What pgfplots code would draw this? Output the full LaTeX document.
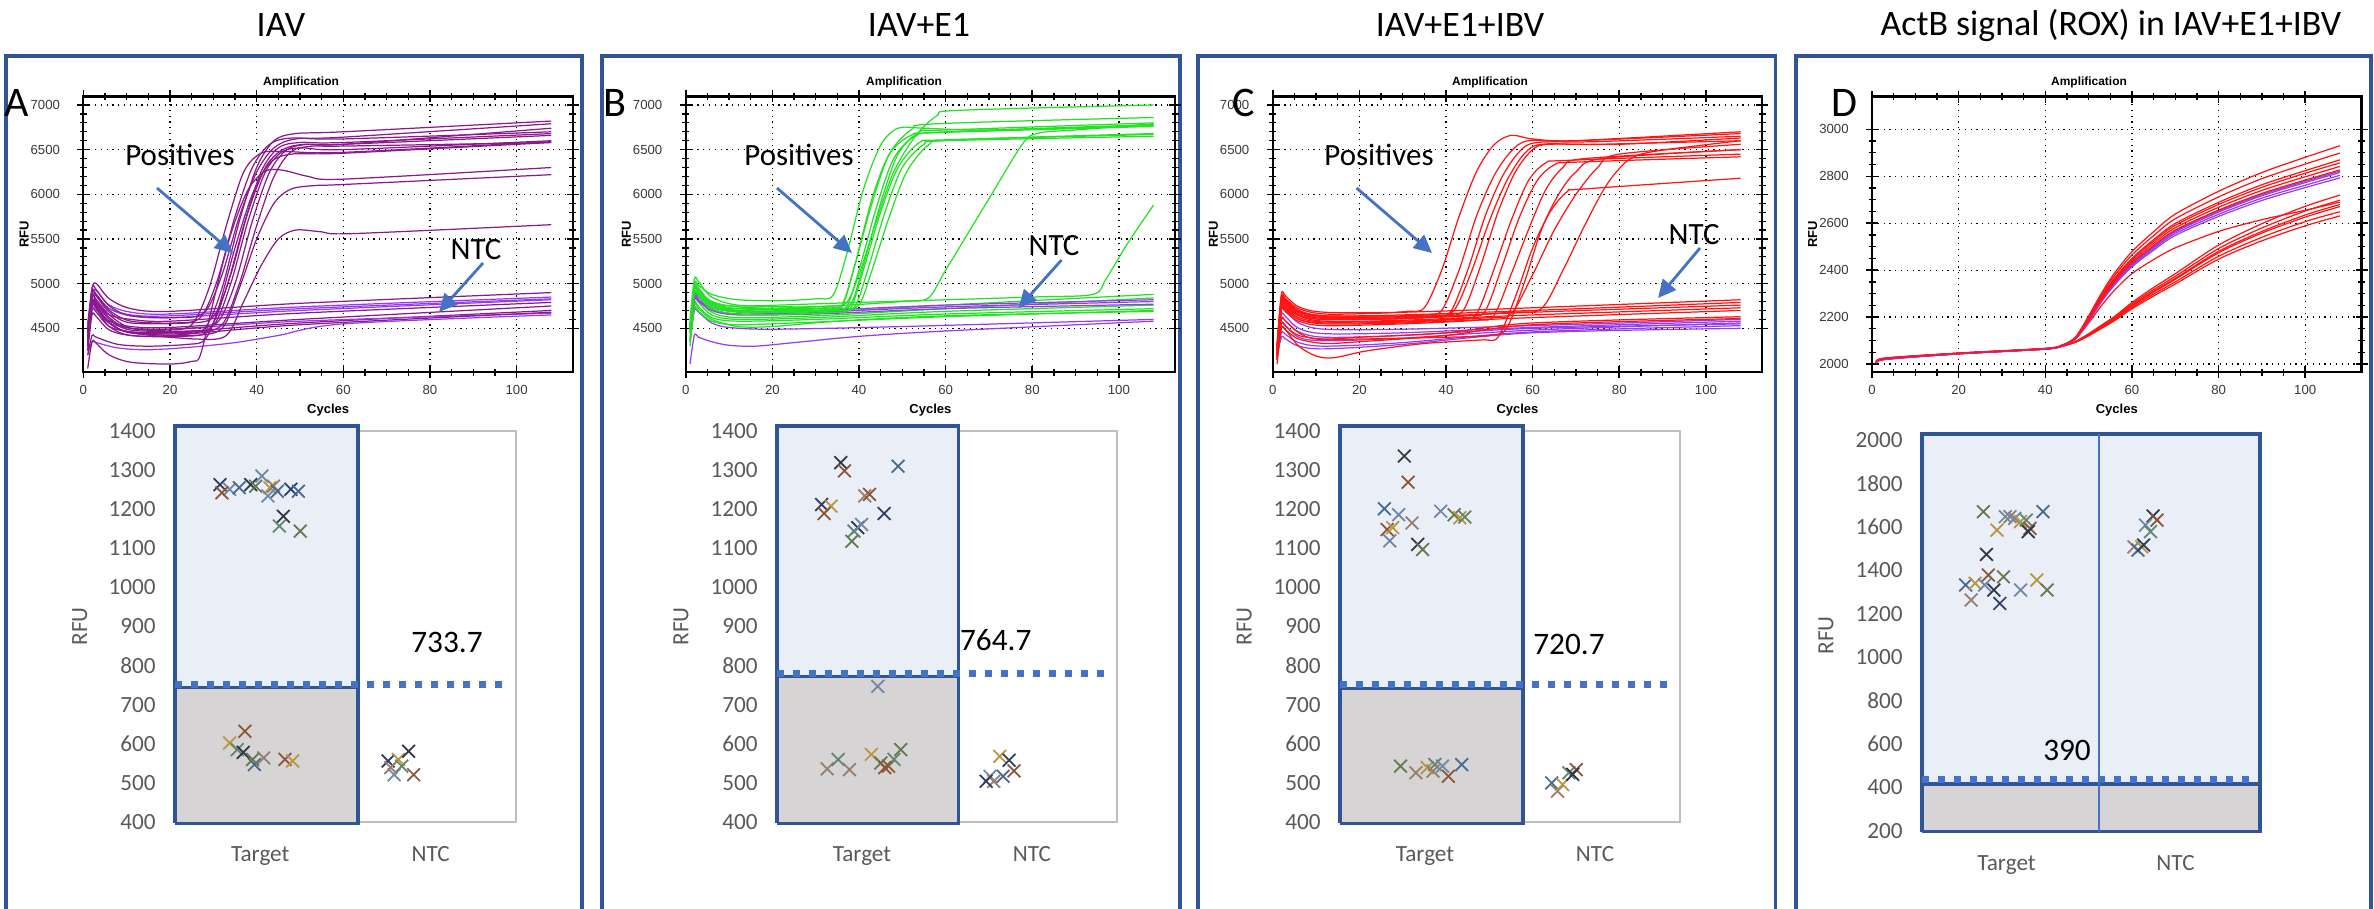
\documentclass[border=0pt]{standalone}
\usepackage{fontspec}
\setmainfont{Carlito}
\newfontfamily\arial{Liberation Sans}
\usepackage{pgfplots}
\pgfplotsset{compat=1.18}
\usetikzlibrary{arrows.meta}
\definecolor{frameblue}{RGB}{47,85,151}
\definecolor{tblue}{RGB}{68,114,196}
\definecolor{boxblue}{RGB}{233,238,247}
\definecolor{boxgray}{RGB}{214,212,213}
\definecolor{bordergray}{RGB}{191,191,191}
\definecolor{tickgray}{RGB}{89,89,89}
\definecolor{apos}{RGB}{140,25,140}
\definecolor{viol}{RGB}{150,60,235}
\definecolor{bpos}{RGB}{35,225,35}
\definecolor{cred}{RGB}{255,20,20}
\definecolor{mk1}{RGB}{47,62,100}
\definecolor{mk2}{RGB}{140,85,55}
\definecolor{mk3}{RGB}{110,135,165}
\definecolor{mk4}{RGB}{100,120,75}
\definecolor{mk5}{RGB}{185,150,60}
\definecolor{mk6}{RGB}{70,105,145}
\definecolor{mk7}{RGB}{45,55,70}
\definecolor{mk8}{RGB}{150,125,110}
\definecolor{mk9}{RGB}{95,135,110}
\newcommand\arialt{\arial\fontsize{3.75}{4.5}\selectfont}
\newcommand\arialb{\arial\bfseries\fontsize{3.7}{4.5}\selectfont}
\newcommand\scf{\fontsize{6.6}{8}\selectfont}
\pgfplotsset{
  amp/.style={
    scale only axis, width=4.895cm, height=2.755cm,
    xmin=0, xmax=113, xtick={0,20,...,100}, minor x tick num=3,
    grid=major, major grid style={black, line width=0.35pt, dash pattern=on 0.35pt off 1.3pt},
    axis line style={black, line width=0.6pt},
    major tick style={black, line width=0.45pt}, minor tick style={black, line width=0.35pt},
    major tick length=1.2mm, minor tick length=0.7mm, tick align=center,
    ticklabel style={font=\arialt, text=black!78},
    xticklabel style={yshift=0.5mm}, yticklabel style={xshift=-0.5mm},
    /pgf/number format/1000 sep={}, /pgf/number format/assume math mode=true,
    xlabel={Cycles}, ylabel={RFU},
    xlabel style={font=\arialb, at={(axis description cs:0.5,-0.14)}, anchor=center},
    ylabel style={font=\arialb, at={(axis description cs:-0.121,0.5)}, anchor=center},
    every axis plot/.append style={line width=0.35pt, smooth},
  },
  sc/.style={
    scale only axis, xmin=0, xmax=2, xtick={0.5,1.5}, xticklabels={Target,NTC},
    major tick length=0pt, axis line style={draw=bordergray, line width=0.7pt},
    ticklabel style={font=\scf, text=tickgray},
    /pgf/number format/1000 sep={}, /pgf/number format/assume math mode=true,
    xticklabel style={yshift=-1.2mm}, yticklabel style={xshift=-0.7mm},
    ylabel={RFU}, ylabel style={font=\scf, text=tickgray, anchor=center},
    clip=false,
    scatter/classes={a={mark=x,draw=mk1},b={mark=x,draw=mk2},c={mark=x,draw=mk3},
      d={mark=x,draw=mk4},e={mark=x,draw=mk5},f={mark=x,draw=mk6},
      g={mark=x,draw=mk7},h={mark=x,draw=mk8},i={mark=x,draw=mk9}},
  },
  sp/.style={scatter, only marks, scatter src=explicit symbolic, mark size=0.9mm, line width=0.5pt},
  thr/.style={tblue, line width=2pt, dash pattern=on 0.68mm off 0.92mm},
  tbox/.style={fill=boxblue, draw=frameblue, line width=0.9pt, line join=miter},
  gbox/.style={fill=boxgray, draw=frameblue, line width=0.9pt, line join=miter},
}
\tikzset{arr/.style={tblue, line width=0.8pt, -{Triangle[length=1.8mm,width=1.7mm]}}}
\begin{document}
\begin{tikzpicture}
\path[use as bounding box] (0,0) rectangle (23.74,9.08);
% frames
\draw[frameblue, line width=1pt] (0.06,-0.2) -- (0.06,8.52) -- (5.82,8.52) -- (5.82,-0.2);
\draw[frameblue, line width=1pt] (6.02,-0.2) -- (6.02,8.52) -- (11.80,8.52) -- (11.80,-0.2);
\draw[frameblue, line width=1pt] (11.98,-0.2) -- (11.98,8.52) -- (17.755,8.52) -- (17.755,-0.2);
\draw[frameblue, line width=1pt] (17.96,-0.2) -- (17.96,8.52) -- (23.71,8.52) -- (23.71,-0.2);
% titles
\node[font=\fontsize{10.2}{12}\selectfont] at (2.81,8.83) {IAV};
\node[font=\fontsize{10.2}{12}\selectfont] at (9.19,8.83) {IAV+E1};
\node[font=\fontsize{10.2}{12}\selectfont] at (14.60,8.83) {IAV+E1+IBV};
\node[font=\fontsize{10.2}{12}\selectfont] at (21.11,8.83) {ActB signal (ROX) in IAV+E1+IBV};

% ---------------- Panel A amplification
\begin{axis}[amp, at={(0.834cm,5.36cm)}, ymin=4011, ymax=7095, ytick={4500,5000,...,7000}, minor y tick num=4]
\addplot[apos] coordinates {(1,4550)(2,4950)(3,5000)(6,4830)(11,4720)(20,4690)(50,4780)(108,4900)};
\addplot[viol] coordinates {(1,4500)(2,4900)(3,4920)(6,4760)(11,4680)(20,4660)(50,4740)(108,4850)};
\addplot[viol] coordinates {(1,4450)(2,4850)(3,4860)(6,4720)(11,4650)(20,4640)(50,4720)(108,4830)};
\addplot[apos] coordinates {(1,4420)(2,4800)(3,4790)(6,4650)(11,4600)(20,4580)(50,4670)(108,4790)};
\addplot[apos] coordinates {(1,4380)(2,4750)(3,4730)(6,4580)(11,4520)(20,4510)(50,4600)(108,4750)};
\addplot[apos] coordinates {(1,4300)(2,4700)(3,4680)(6,4520)(11,4460)(20,4450)(50,4560)(108,4700)};
\addplot[viol] coordinates {(1,4350)(2,4720)(3,4700)(6,4560)(11,4500)(20,4490)(50,4580)(108,4670)};
\addplot[apos] coordinates {(1,4250)(2,4650)(3,4630)(6,4480)(11,4420)(20,4420)(50,4540)(108,4680)};
\addplot[viol] coordinates {(1,4200)(2,4350)(3,4340)(8,4280)(15,4260)(25,4290)(35,4340)(45,4420)(60,4550)(108,4650)};
\addplot[viol] coordinates {(1,4500)(2,4850)(3,4870)(6,4720)(11,4640)(20,4620)(50,4700)(108,4820)};
\addplot[apos] coordinates {(1,4350)(2,4850)(3,4820)(6,4650)(11,4500)(19,4480)(25,4540)(29,4950)(33,5650)(37,6250)(41,6460)(46,6480)(60,6470)(108,6590)};
\addplot[apos] coordinates {(1,4400)(2,4900)(3,4880)(6,4700)(11,4580)(21,4560)(27,4620)(31,5050)(35,5750)(39,6300)(43,6560)(48,6630)(60,6620)(108,6700)};
\addplot[apos] coordinates {(1,4300)(2,4800)(3,4760)(6,4560)(11,4450)(22,4440)(28,4500)(32,4950)(36,5700)(40,6300)(44,6600)(49,6680)(60,6700)(108,6820)};
\addplot[apos] coordinates {(1,4450)(2,4950)(3,4930)(6,4750)(11,4640)(22,4620)(28,4680)(32,5100)(36,5750)(40,6250)(44,6520)(49,6620)(60,6640)(108,6790)};
\addplot[apos] coordinates {(1,4250)(2,4750)(3,4720)(6,4520)(11,4420)(23,4410)(29,4480)(33,4950)(37,5650)(41,6250)(45,6520)(50,6580)(60,6580)(108,6680)};
\addplot[apos] coordinates {(1,4500)(2,4900)(3,4860)(6,4680)(11,4560)(24,4560)(30,4630)(34,5100)(38,5800)(42,6300)(46,6500)(51,6560)(60,6560)(108,6660)};
\addplot[apos] coordinates {(1,4350)(2,4800)(3,4780)(6,4600)(11,4480)(24,4470)(30,4530)(34,5000)(38,5700)(42,6250)(46,6480)(51,6520)(60,6500)(108,6600)};
\addplot[apos] coordinates {(1,4380)(2,4850)(3,4800)(6,4620)(11,4500)(25,4500)(31,4570)(35,5000)(39,5700)(43,6250)(47,6500)(52,6560)(60,6560)(108,6740)};
\addplot[apos] coordinates {(1,4300)(2,4780)(3,4740)(6,4560)(11,4460)(26,4460)(32,4540)(36,5000)(40,5650)(44,6200)(48,6480)(53,6540)(60,6540)(108,6580)};
\addplot[apos] coordinates {(1,4050)(2,4350)(3,4330)(6,4200)(11,4120)(20,4100)(25,4130)(27,4200)(30,4800)(34,5550)(38,6050)(42,6260)(46,6270)(52,6200)(60,6170)(108,6300)};
\addplot[apos] coordinates {(1,4400)(2,4800)(3,4760)(6,4560)(11,4450)(25,4420)(32,4500)(36,4950)(40,5500)(44,5900)(48,6060)(54,6100)(60,6110)(108,6220)};
\addplot[apos] coordinates {(1,4350)(2,4780)(3,4740)(6,4560)(11,4450)(26,4380)(33,4420)(37,4800)(41,5200)(45,5500)(49,5600)(55,5580)(62,5560)(108,5660)};
\addplot[apos] coordinates {(1,4200)(2,4420)(3,4400)(8,4320)(15,4300)(24,4320)(28,4370)(31,4700)(35,5400)(39,6000)(43,6350)(48,6450)(60,6460)(108,6580)};
\end{axis}

% ---------------- Panel B amplification
\begin{axis}[amp, at={(6.857cm,5.36cm)}, ymin=4011, ymax=7095, ytick={4500,5000,...,7000}, minor y tick num=4]
\addplot[viol] coordinates {(1,4100)(2,4420)(3,4400)(6,4350)(10,4310)(16,4300)(25,4340)(40,4410)(60,4470)(108,4580)};
\addplot[viol] coordinates {(1,4350)(2,4700)(3,4680)(6,4560)(10,4510)(20,4490)(50,4520)(108,4600)};
\addplot[bpos] coordinates {(1,4450)(2,4900)(3,4870)(6,4720)(12,4660)(30,4680)(60,4760)(108,4880)};
\addplot[bpos] coordinates {(1,4400)(2,4850)(3,4820)(6,4680)(12,4620)(30,4640)(60,4720)(108,4840)};
\addplot[bpos] coordinates {(1,4380)(2,4820)(3,4790)(6,4650)(12,4600)(30,4620)(60,4690)(108,4760)};
\addplot[bpos] coordinates {(1,4350)(2,4780)(3,4740)(6,4620)(12,4580)(30,4600)(60,4660)(108,4720)};
\addplot[bpos] coordinates {(1,4300)(2,4720)(3,4690)(6,4580)(12,4540)(30,4570)(60,4630)(108,4700)};
\addplot[bpos] coordinates {(1,4350)(2,4760)(3,4720)(6,4600)(12,4520)(20,4520)(35,4580)(60,4640)(108,4690)};
\addplot[viol] coordinates {(1,4500)(2,4850)(3,4820)(6,4720)(12,4660)(30,4680)(60,4740)(108,4800)};
\addplot[viol] coordinates {(1,4520)(2,4880)(3,4850)(6,4740)(12,4690)(30,4700)(60,4760)(108,4820)};
\addplot[viol] coordinates {(1,4480)(2,4820)(3,4800)(6,4700)(12,4650)(30,4660)(60,4720)(108,4770)};
\addplot[bpos] coordinates {(1,4500)(2,5000)(3,4980)(6,4880)(12,4820)(22,4810)(30,4830)(34,4870)(37,5300)(41,6050)(45,6550)(49,6740)(55,6740)(70,6720)(108,6770)};
\addplot[bpos] coordinates {(1,4550)(2,4950)(3,4920)(6,4800)(12,4740)(24,4720)(32,4730)(36,4760)(39,5200)(43,5900)(47,6450)(52,6720)(58,6790)(108,6860)};
\addplot[bpos] coordinates {(1,4600)(2,5050)(3,5020)(6,4850)(12,4760)(25,4740)(33,4750)(37,4780)(40,5100)(44,5700)(48,6250)(53,6650)(58,6880)(63,6940)(108,7000)};
\addplot[bpos] coordinates {(1,4500)(2,4950)(3,4920)(6,4780)(12,4700)(25,4690)(33,4700)(37,4730)(40,5150)(44,5850)(48,6400)(53,6650)(60,6700)(108,6780)};
\addplot[bpos] coordinates {(1,4450)(2,4900)(3,4860)(6,4720)(12,4660)(26,4660)(34,4680)(38,4720)(41,5150)(45,5800)(49,6300)(54,6580)(60,6610)(108,6670)};
\addplot[bpos] coordinates {(1,4520)(2,4980)(3,4950)(6,4790)(12,4720)(26,4710)(34,4730)(38,4760)(41,5200)(45,5900)(49,6450)(54,6700)(60,6720)(108,6800)};
\addplot[bpos] coordinates {(1,4480)(2,4900)(3,4870)(6,4740)(12,4680)(27,4680)(35,4700)(39,4740)(42,5150)(46,5800)(50,6300)(55,6560)(60,6600)(108,6650)};
\addplot[bpos] coordinates {(1,4550)(2,4950)(3,4920)(6,4770)(12,4700)(28,4700)(36,4720)(40,4760)(43,5150)(47,5750)(51,6250)(56,6550)(62,6610)(108,6680)};
\addplot[bpos] coordinates {(1,4500)(2,4930)(3,4900)(6,4760)(12,4690)(24,4690)(32,4700)(36,4740)(39,5200)(43,5950)(47,6450)(52,6660)(58,6690)(108,6760)};
\addplot[bpos] coordinates {(1,4480)(2,4900)(3,4880)(6,4760)(12,4720)(30,4740)(50,4800)(56,4840)(60,5150)(70,5950)(78,6580)(82,6690)(90,6720)(108,6790)};
\addplot[bpos] coordinates {(1,4500)(2,4950)(3,4920)(6,4800)(12,4750)(40,4790)(80,4850)(94,4880)(97,5050)(102,5450)(108,5880)};
\end{axis}

% ---------------- Panel C amplification
\begin{axis}[amp, at={(12.727cm,5.36cm)}, ymin=4011, ymax=7095, ytick={4500,5000,...,7000}, minor y tick num=4]
\addplot[viol] coordinates {(1,4300)(2,4720)(3,4700)(6,4560)(12,4490)(30,4490)(60,4530)(108,4600)};
\addplot[viol] coordinates {(1,4250)(2,4650)(3,4630)(6,4500)(12,4440)(30,4450)(60,4510)(108,4580)};
\addplot[viol] coordinates {(1,4200)(2,4550)(3,4530)(6,4400)(12,4360)(30,4390)(60,4480)(108,4560)};
\addplot[viol] coordinates {(1,4200)(2,4450)(3,4430)(6,4340)(12,4300)(30,4340)(60,4460)(108,4530)};
\addplot[viol] coordinates {(1,4180)(2,4400)(3,4380)(6,4300)(12,4270)(30,4320)(60,4450)(108,4500)};
\addplot[viol] coordinates {(1,4280)(2,4600)(3,4580)(6,4460)(12,4400)(30,4420)(60,4500)(108,4550)};
\addplot[cred] coordinates {(1,4300)(2,4880)(3,4860)(6,4740)(12,4680)(30,4680)(60,4730)(108,4820)};
\addplot[cred] coordinates {(1,4250)(2,4830)(3,4810)(6,4700)(12,4640)(30,4650)(60,4700)(108,4790)};
\addplot[cred] coordinates {(1,4200)(2,4800)(3,4780)(6,4670)(12,4610)(30,4620)(60,4680)(108,4760)};
\addplot[cred] coordinates {(1,4180)(2,4760)(3,4740)(6,4640)(12,4580)(30,4590)(60,4650)(108,4730)};
\addplot[cred] coordinates {(1,4150)(2,4720)(3,4700)(6,4600)(12,4550)(30,4560)(60,4620)(108,4700)};
\addplot[cred] coordinates {(1,4200)(2,4550)(3,4520)(6,4420)(12,4380)(20,4400)(40,4450)(60,4560)(108,4630)};
\addplot[cred] coordinates {(1,4150)(2,4500)(3,4480)(6,4380)(12,4330)(20,4350)(40,4420)(60,4540)(108,4610)};
\addplot[cred] coordinates {(1,4300)(2,4850)(3,4830)(6,4720)(12,4660)(25,4670)(31,4690)(35,4730)(39,5150)(43,5750)(47,6250)(51,6550)(55,6660)(60,6620)(70,6600)(108,6680)};
\addplot[cred] coordinates {(1,4250)(2,4800)(3,4780)(6,4680)(12,4620)(28,4630)(35,4650)(39,4700)(43,5150)(47,5750)(51,6200)(55,6480)(59,6600)(70,6600)(108,6700)};
\addplot[cred] coordinates {(1,4200)(2,4780)(3,4760)(6,4650)(12,4600)(30,4610)(37,4630)(41,4680)(45,5150)(49,5750)(53,6200)(57,6480)(61,6580)(75,6590)(108,6650)};
\addplot[cred] coordinates {(1,4250)(2,4820)(3,4800)(6,4690)(12,4640)(30,4640)(38,4660)(42,4710)(46,5150)(50,5700)(54,6150)(58,6450)(62,6560)(75,6560)(108,6600)};
\addplot[cred] coordinates {(1,4300)(2,4850)(3,4820)(6,4700)(12,4630)(30,4630)(40,4650)(44,4700)(48,5200)(52,5800)(56,6250)(60,6500)(64,6560)(80,6560)(108,6630)};
\addplot[cred] coordinates {(1,4200)(2,4750)(3,4730)(6,4620)(12,4570)(30,4580)(43,4610)(47,4660)(51,5150)(55,5700)(59,6150)(63,6350)(68,6380)(108,6450)};
\addplot[cred] coordinates {(1,4250)(2,4800)(3,4770)(6,4650)(12,4600)(30,4610)(45,4640)(49,4690)(53,5200)(57,5750)(61,6150)(65,6330)(70,6360)(108,6420)};
\addplot[cred] coordinates {(1,4150)(2,4700)(3,4680)(6,4580)(12,4530)(30,4550)(47,4590)(51,4640)(55,5100)(59,5600)(63,6050)(67,6300)(72,6400)(108,6500)};
\addplot[cred] coordinates {(1,4100)(2,4500)(3,4480)(6,4300)(10,4190)(14,4170)(22,4250)(35,4330)(48,4370)(52,4400)(56,4850)(60,5400)(64,5800)(68,6030)(72,6060)(108,6180)};
\addplot[cred] coordinates {(1,4200)(2,4750)(3,4720)(6,4600)(12,4560)(30,4570)(50,4620)(55,4660)(60,5100)(65,5600)(70,6000)(75,6300)(80,6450)(108,6560)};
\addplot[cred] coordinates {(1,4250)(2,4800)(3,4770)(6,4650)(12,4600)(30,4610)(55,4680)(62,4720)(67,5150)(72,5650)(77,6100)(82,6380)(88,6480)(108,6600)};
\addplot[cred] coordinates {(1,4150)(2,4600)(3,4580)(6,4450)(10,4380)(20,4380)(40,4400)(50,4420)(54,4500)(58,5000)(62,5600)(66,6000)(70,6250)(76,6400)(108,6500)};
\end{axis}

% ---------------- Panel D amplification
\begin{axis}[amp, at={(18.72cm,5.36cm)}, ymin=1966, ymax=3140, ytick={2000,2200,...,3000}, minor y tick num=3]
\addplot[cred] coordinates {(1,2008)(3,2024)(20,2046)(40,2066)(44,2078)(47,2097)(50,2129)(53,2166)(56,2203)(60,2262)(65,2326)(70,2385)(80,2507)(90,2598)(100,2672)(108,2720)};
\addplot[cred] coordinates {(1,2005)(3,2022)(20,2045)(40,2065)(44,2077)(47,2096)(50,2127)(53,2163)(56,2199)(60,2256)(65,2317)(70,2374)(80,2492)(90,2580)(100,2652)(108,2698)};
\addplot[cred] coordinates {(1,2003)(3,2020)(20,2044)(40,2064)(44,2077)(47,2095)(50,2125)(53,2160)(56,2195)(60,2250)(65,2310)(70,2365)(80,2480)(90,2565)(100,2635)(108,2680)};
\addplot[cred] coordinates {(1,2006)(3,2023)(20,2046)(40,2065)(44,2077)(47,2095)(50,2124)(53,2159)(56,2193)(60,2247)(65,2306)(70,2361)(80,2474)(90,2558)(100,2626)(108,2671)};
\addplot[cred] coordinates {(1,2004)(3,2021)(20,2044)(40,2064)(44,2076)(47,2094)(50,2122)(53,2155)(56,2189)(60,2241)(65,2298)(70,2350)(80,2459)(90,2540)(100,2607)(108,2649)};
\addplot[cred] coordinates {(1,2002)(3,2019)(20,2043)(40,2063)(44,2076)(47,2093)(50,2120)(53,2152)(56,2185)(60,2235)(65,2290)(70,2341)(80,2447)(90,2525)(100,2589)(108,2631)};
\addplot[cred] coordinates {(1,2005)(3,2022)(20,2045)(40,2065)(44,2080)(47,2108)(50,2175)(53,2250)(56,2315)(60,2385)(65,2445)(70,2495)(80,2565)(90,2615)(100,2655)(108,2690)};
\addplot[cred] coordinates {(1,2008)(3,2026)(20,2047)(40,2067)(44,2082)(47,2116)(50,2205)(53,2303)(56,2388)(60,2479)(65,2564)(70,2639)(80,2736)(90,2816)(100,2881)(108,2930)};
\addplot[cred] coordinates {(1,2006)(3,2024)(20,2046)(40,2066)(44,2081)(47,2114)(50,2200)(53,2295)(56,2377)(60,2465)(65,2547)(70,2619)(80,2712)(90,2790)(100,2852)(108,2899)};
\addplot[cred] coordinates {(1,2005)(3,2022)(20,2045)(40,2065)(44,2081)(47,2113)(50,2195)(53,2287)(56,2366)(60,2450)(65,2530)(70,2599)(80,2689)(90,2764)(100,2824)(108,2870)};
\addplot[cred] coordinates {(1,2004)(3,2021)(20,2044)(40,2064)(44,2081)(47,2112)(50,2193)(53,2283)(56,2361)(60,2445)(65,2523)(70,2591)(80,2680)(90,2753)(100,2813)(108,2857)};
\addplot[cred] coordinates {(1,2007)(3,2023)(20,2045)(40,2065)(44,2080)(47,2111)(50,2190)(53,2279)(56,2356)(60,2437)(65,2514)(70,2581)(80,2668)(90,2740)(100,2798)(108,2842)};
\addplot[viol] coordinates {(1,2005)(3,2022)(20,2045)(40,2065)(44,2080)(47,2109)(50,2186)(53,2272)(56,2346)(60,2425)(65,2498)(70,2563)(80,2647)(90,2717)(100,2773)(108,2816)};
\addplot[viol] coordinates {(1,2003)(3,2020)(20,2044)(40,2064)(44,2080)(47,2109)(50,2184)(53,2269)(56,2341)(60,2419)(65,2492)(70,2556)(80,2638)(90,2707)(100,2762)(108,2804)};
\addplot[viol] coordinates {(1,2006)(3,2023)(20,2045)(40,2065)(44,2079)(47,2108)(50,2182)(53,2266)(56,2337)(60,2414)(65,2485)(70,2548)(80,2629)(90,2697)(100,2752)(108,2793)};
\addplot[viol] coordinates {(1,2004)(3,2021)(20,2044)(40,2064)(44,2080)(47,2110)(50,2187)(53,2273)(56,2348)(60,2428)(65,2502)(70,2568)(80,2652)(90,2722)(100,2779)(108,2822)};
\addplot[cred] coordinates {(1,2005)(3,2022)(20,2045)(40,2065)(44,2080)(47,2110)(50,2188)(53,2275)(56,2350)(60,2430)(65,2505)(70,2571)(80,2656)(90,2727)(100,2784)(108,2827)};
\end{axis}

% amplification titles, letters, annotations
\foreach \xx in {3.01,9.04,14.90,20.89} {\node[font=\arial\bfseries\fontsize{3.4}{4}\selectfont] at (\xx,8.26) {Amplification};}
\node[font=\fontsize{12}{14}\selectfont] at (0.17,8.05) {A};
\node[font=\fontsize{12}{14}\selectfont] at (6.15,8.05) {B};
\node[font=\fontsize{12}{14}\selectfont] at (12.44,8.05) {C};
\node[font=\fontsize{12}{14}\selectfont] at (18.44,8.05) {D};
\node[font=\fontsize{8.8}{10}\selectfont] at (1.80,7.53) {Positives};
\node[font=\fontsize{8.8}{10}\selectfont] at (7.99,7.53) {Positives};
\node[font=\fontsize{8.8}{10}\selectfont] at (13.79,7.53) {Positives};
\node[font=\fontsize{8.8}{10}\selectfont] at (4.76,6.58) {NTC};
\node[font=\fontsize{8.8}{10}\selectfont] at (10.54,6.62) {NTC};
\node[font=\fontsize{8.8}{10}\selectfont] at (16.94,6.73) {NTC};
\draw[arr] (1.57,7.20) -- (2.33,6.55);
\draw[arr] (4.83,6.45) -- (4.39,5.96);
\draw[arr] (7.77,7.20) -- (8.52,6.55);
\draw[arr] (10.615,6.48) -- (10.186,6.00);
\draw[arr] (13.565,7.20) -- (14.32,6.55);
\draw[arr] (17.00,6.60) -- (16.58,6.10);

% ---------------- Scatter A
\begin{axis}[sc, at={(1.75cm,0.86cm)}, width=3.41cm, height=3.91cm, ymin=400, ymax=1400, ytick={400,500,...,1400},
  ylabel style={at={(axis description cs:-0.279,0.5)}}]
\addplot[tbox] coordinates {(0,397)(1.073,397)(1.073,1413)(0,1413)(0,397)};
\addplot[gbox] coordinates {(0,397)(1.073,397)(1.073,743)(0,743)(0,397)};
\addplot[sp] coordinates {(0.264,1263)[a] (0.32,1251)[c] (0.275,1242)[b] (0.377,1255)[f] (0.444,1263)[g] (0.473,1259)[d] (0.51,1285)[c] (0.556,1255)[e] (0.578,1259)[h] (0.545,1234)[c] (0.60,1246)[f] (0.68,1251)[a] (0.724,1246)[f] (0.635,1182)[g] (0.612,1157)[i] (0.735,1144)[d]
 (0.41,632)[b] (0.32,602)[e] (0.365,585)[i] (0.40,578)[g] (0.466,547)[f] (0.52,564)[h] (0.645,560)[b] (0.69,556)[e] (0.455,560)[d]
 (1.25,556)[a] (1.31,560)[e] (1.37,581)[g] (1.285,521)[c] (1.33,543)[i] (1.40,521)[b] (1.265,539)[h]};
\addplot[thr] coordinates {(0,752)(1.92,752)};
\end{axis}
\node[font=\fontsize{8.9}{10}\selectfont] at (4.47,2.66) {733.7};

% ---------------- Scatter B
\begin{axis}[sc, at={(7.77cm,0.86cm)}, width=3.40cm, height=3.91cm, ymin=400, ymax=1400, ytick={400,500,...,1400},
  ylabel style={at={(axis description cs:-0.282,0.5)}}]
\addplot[tbox] coordinates {(0,397)(1.07,397)(1.07,1413)(0,1413)(0,397)};
\addplot[gbox] coordinates {(0,397)(1.07,397)(1.07,772)(0,772)(0,397)};
\addplot[sp] coordinates {(0.375,1319)[g] (0.397,1298)[b] (0.712,1310)[f] (0.262,1212)[a] (0.318,1208)[e] (0.277,1189)[b] (0.516,1234)[h] (0.544,1238)[b] (0.63,1189)[a] (0.475,1153)[g] (0.453,1144)[i] (0.44,1118)[d] (0.498,1161)[c]
 (0.593,747)[c] (0.295,536)[h] (0.359,560)[i] (0.426,534)[h] (0.555,573)[e] (0.611,551)[d] (0.656,543)[b] (0.728,585)[d] (0.688,560)[i] (0.634,539)[b]
 (1.31,568)[e] (1.365,558)[a] (1.394,531)[b] (1.253,517)[c] (1.275,504)[h] (1.33,517)[f] (1.23,504)[a]};
\addplot[thr] coordinates {(0,781)(1.97,781)};
\end{axis}
\node[font=\fontsize{8.9}{10}\selectfont] at (9.957,2.68) {764.7};

% ---------------- Scatter C
\begin{axis}[sc, at={(13.40cm,0.86cm)}, width=3.40cm, height=3.91cm, ymin=400, ymax=1400, ytick={400,500,...,1400},
  ylabel style={at={(axis description cs:-0.282,0.5)}}]
\addplot[tbox] coordinates {(0,397)(1.076,397)(1.076,1413)(0,1413)(0,397)};
\addplot[gbox] coordinates {(0,397)(1.076,397)(1.076,742)(0,742)(0,397)};
\addplot[sp] coordinates {(0.378,1336)[g] (0.40,1269)[b] (0.261,1201)[f] (0.345,1186)[c] (0.424,1165)[h] (0.277,1148)[b] (0.31,1153)[e] (0.293,1119)[c] (0.457,1110)[g] (0.486,1097)[d] (0.592,1195)[c] (0.671,1186)[d] (0.705,1178)[e] (0.734,1180)[i]
 (0.356,543)[d] (0.446,526)[h] (0.513,539)[e] (0.558,547)[i] (0.603,543)[c] (0.637,517)[b] (0.716,547)[f] (0.547,530)[h]
 (1.245,500)[f] (1.279,479)[h] (1.31,496)[e] (1.346,526)[i] (1.39,534)[b] (1.369,522)[g]};
\addplot[thr] coordinates {(0,751)(1.94,751)};
\end{axis}
\node[font=\fontsize{8.9}{10}\selectfont] at (15.69,2.64) {720.7};

% ---------------- Scatter D
\begin{axis}[sc, at={(19.22cm,0.773cm)}, width=3.38cm, height=3.907cm, ymin=200, ymax=2000, ytick={200,400,...,2000},
  ylabel style={at={(axis description cs:-0.284,0.5)}}]
\addplot[tbox] coordinates {(0,195)(2,195)(2,2028)(0,2028)(0,195)};
\addplot[gbox] coordinates {(0,195)(2,195)(2,415)(0,415)(0,195)};
\addplot[tblue, line width=0.6pt] coordinates {(1.047,195)(1.047,2028)};
\addplot[sp] coordinates {(0.363,1670)[d] (0.444,1585)[e] (0.52,1647)[h] (0.549,1639)[c] (0.583,1624)[e] (0.616,1631)[i] (0.639,1593)[b] (0.628,1578)[g] (0.716,1670)[f] (0.493,1647)[c] (0.381,1473)[g] (0.258,1332)[f] (0.314,1340)[e] (0.392,1378)[b] (0.482,1370)[d] (0.425,1309)[g] (0.29,1263)[h] (0.46,1247)[a] (0.583,1309)[c] (0.679,1355)[e] (0.74,1309)[d] (0.37,1332)[c]
 (1.367,1650)[g] (1.39,1631)[b] (1.322,1608)[c] (1.352,1578)[i] (1.254,1508)[h] (1.30,1508)[e] (1.278,1493)[f] (1.311,1516)[a]};
\addplot[thr] coordinates {(0,434)(1.96,434)};
\end{axis}
\node[font=\fontsize{8.9}{10}\selectfont] at (20.67,1.58) {390};
\end{tikzpicture}
\end{document}
